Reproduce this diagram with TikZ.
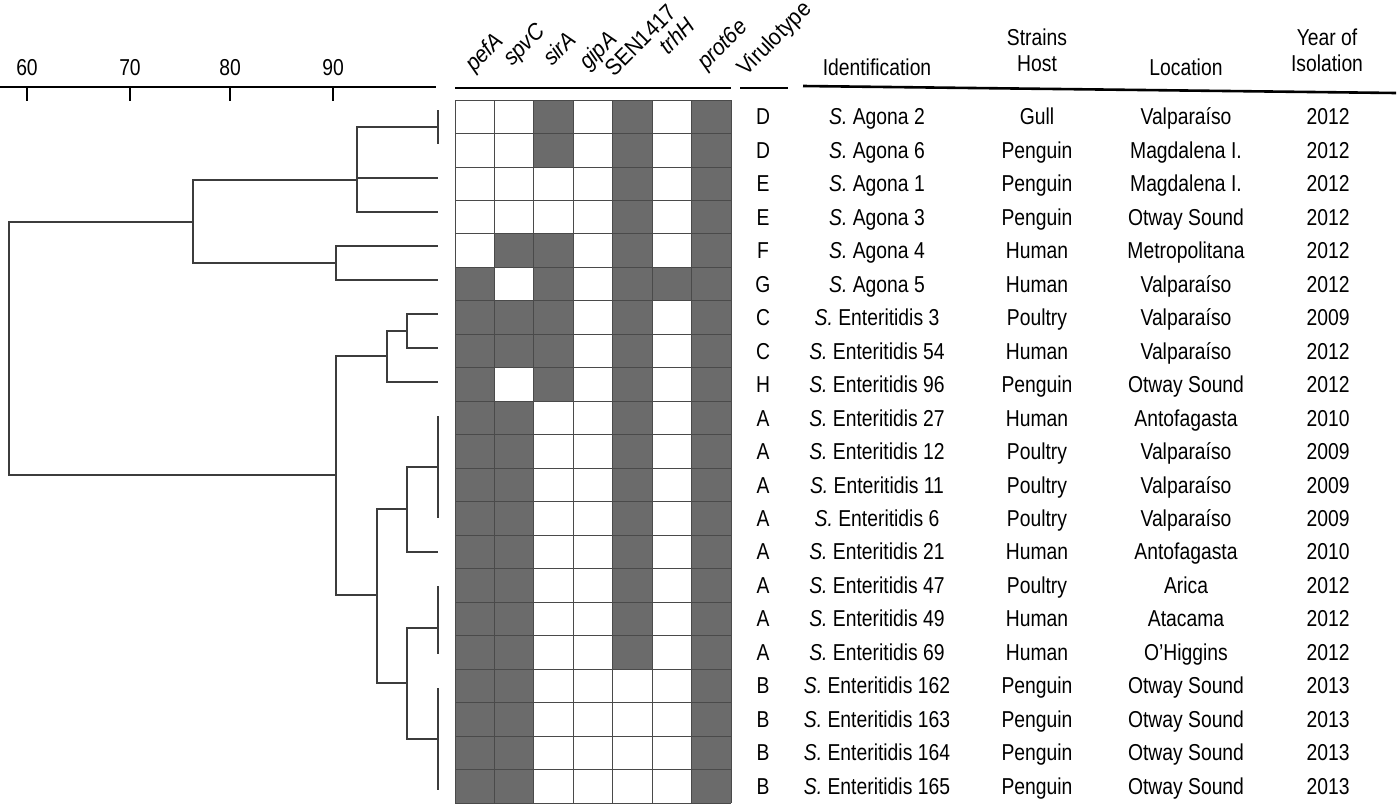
\documentclass[tikz,border=0pt]{standalone}
\usepackage{fontspec}
\setmainfont[FakeStretch=0.84]{Liberation Sans}
\newfontfamily\genefont[FakeStretch=0.92]{Liberation Sans}
\definecolor{cellfill}{HTML}{6B6B6B}
\definecolor{cellline}{HTML}{4A4A4A}
\definecolor{treeline}{HTML}{3C3C3C}
\begin{document}
\begin{tikzpicture}[x=1pt,y=-1pt,
  txt/.style={inner sep=0pt,anchor=base,font=\fontsize{23}{26}\selectfont},
  gene/.style={inner sep=0pt,anchor=base west,rotate=45,font=\genefont\fontsize{23}{26}\selectfont},
  tree/.style={draw=treeline,line width=1.5pt},
  bar/.style={draw=black,line width=2.6pt},
  cellbox/.style={draw=cellline,line width=0.9pt}]
\useasboundingbox (0,0) rectangle (1400,809);
% ---------- axis ----------
\draw[bar] (0,87) -- (436,87);
\foreach \v/\x in {60/27,70/130,80/230,90/333}{
  \draw[bar,line width=2.4pt] (\x,87) -- (\x,101);
  \node[txt] (ax\v) at (\x,75) {\v};
}
% ---------- dendrogram ----------
\coordinate (R) at (9,348);
\coordinate (A) at (193,222);
\coordinate (A1) at (357,180);
\coordinate (A2) at (336,263);
\coordinate (B) at (336,475);
\coordinate (B1) at (387,356);
\coordinate (B11) at (407,331);
\coordinate (B2) at (377,595);
\coordinate (B21) at (407,509);
\coordinate (B22) at (407,683);
\coordinate (L01) at (438,127);
\coordinate (L2) at (438,178);
\coordinate (L3) at (438,212);
\coordinate (L4) at (438,246);
\coordinate (L5) at (438,280);
\coordinate (L6) at (438,314);
\coordinate (L7) at (438,348);
\coordinate (L8) at (438,382);
\coordinate (L912) at (438,467);
\coordinate (L13) at (438,552);
\coordinate (L1416) at (438,628);
\coordinate (L1720) at (438,739);
\draw[tree] (R) |- (A) (R) |- (B);
\draw[tree] (A) |- (A1) (A) |- (A2);
\draw[tree] (A1) |- (L01) (A1) |- (L2) (A1) |- (L3);
\draw[tree] (A2) |- (L4) (A2) |- (L5);
\draw[tree] (B) |- (B1) (B) |- (B2);
\draw[tree] (B1) |- (B11) (B1) |- (L8);
\draw[tree] (B11) |- (L6) (B11) |- (L7);
\draw[tree] (B2) |- (B21) (B2) |- (B22);
\draw[tree] (B21) |- (L912) (B21) |- (L13);
\draw[tree] (B22) |- (L1416) (B22) |- (L1720);
\draw[tree] (438,110) -- (438,144);
\draw[tree] (438,416) -- (438,518);
\draw[tree] (438,586) -- (438,654);
\draw[tree] (438,688) -- (438,790);
% ---------- presence grid ----------
\def\cw{39.43}
\def\rh{33.48}
\foreach \pat [count=\r from 0] in {
 {0,0,1,0,1,0,1},{0,0,1,0,1,0,1},{0,0,0,0,1,0,1},{0,0,0,0,1,0,1},
 {0,1,1,0,1,0,1},{1,0,1,0,1,1,1},{1,1,1,0,1,0,1},{1,1,1,0,1,0,1},
 {1,0,1,0,1,0,1},{1,1,0,0,1,0,1},{1,1,0,0,1,0,1},{1,1,0,0,1,0,1},
 {1,1,0,0,1,0,1},{1,1,0,0,1,0,1},{1,1,0,0,1,0,1},{1,1,0,0,1,0,1},
 {1,1,0,0,1,0,1},{1,1,0,0,0,0,1},{1,1,0,0,0,0,1},{1,1,0,0,0,0,1},
 {1,1,0,0,0,0,1}}{
  \foreach \v [count=\c from 0] in \pat {
    \ifnum\v=1
      \fill[cellfill] ({455+\c*\cw},{100+\r*\rh}) rectangle ++(\cw,\rh);
    \fi
  }
}
\foreach \c in {0,...,7}{\draw[cellbox] ({455+\c*\cw},100) -- ({455+\c*\cw},803);}
\foreach \r in {0,...,21}{\draw[cellbox] (455,{100+\r*\rh}) -- (731,{100+\r*\rh});}
% ---------- header ----------
\draw[bar] (455,88) -- (731,88);
\draw[bar] (740,88) -- (788,88);
\draw[bar] (803,86) -- (1396,93);
\node[gene] (g1) at (474,73) {\itshape pefA};
\node[gene] (g2) at (512,67) {\itshape spvC};
\node[gene] (g3) at (552,67) {\itshape sirA};
\node[gene] (g4) at (588,71) {\itshape gipA};
\node[gene] (g5) at (614,78) {SEN1417};
\node[gene] (g6) at (668,56) {\itshape trhH};
\node[gene] (g7) at (706,71) {\itshape prot6e};
\node[gene] (g8) at (746,77) {Virulotype};
\node[txt] (h1) at (877,75) {Identification};
\node[txt] (h2a) at (1037,45) {Strains};
\node[txt] (h2b) at (1037,71) {Host};
\node[txt] (h3) at (1186,75) {Location};
\node[txt] (h4a) at (1327,45) {Year of};
\node[txt] (h4b) at (1327,71) {Isolation};
% ---------- rows ----------
\foreach \vt/\sp/\host/\loc/\yr [count=\i from 0] in {
 D/Agona 2/Gull/Valparaíso/2012,
 D/Agona 6/Penguin/Magdalena I./2012,
 E/Agona 1/Penguin/Magdalena I./2012,
 E/Agona 3/Penguin/Otway Sound/2012,
 F/Agona 4/Human/Metropolitana/2012,
 G/Agona 5/Human/Valparaíso/2012,
 C/Enteritidis 3/Poultry/Valparaíso/2009,
 C/Enteritidis 54/Human/Valparaíso/2012,
 H/Enteritidis 96/Penguin/Otway Sound/2012,
 A/Enteritidis 27/Human/Antofagasta/2010,
 A/Enteritidis 12/Poultry/Valparaíso/2009,
 A/Enteritidis 11/Poultry/Valparaíso/2009,
 A/Enteritidis 6/Poultry/Valparaíso/2009,
 A/Enteritidis 21/Human/Antofagasta/2010,
 A/Enteritidis 47/Poultry/Arica/2012,
 A/Enteritidis 49/Human/Atacama/2012,
 A/Enteritidis 69/Human/O’Higgins/2012,
 B/Enteritidis 162/Penguin/Otway Sound/2013,
 B/Enteritidis 163/Penguin/Otway Sound/2013,
 B/Enteritidis 164/Penguin/Otway Sound/2013,
 B/Enteritidis 165/Penguin/Otway Sound/2013}{
  \pgfmathsetmacro{\yb}{100+(\i+0.5)*33.48+8}
  \node[txt] (v\i) at (763,\yb) {\vt};
  \node[txt] (id\i) at (877,\yb) {\textit{S.} \sp};
  \node[txt] (ho\i) at (1037,\yb) {\host};
  \node[txt] (lo\i) at (1186,\yb) {\loc};
  \node[txt] (yr\i) at (1328,\yb) {\yr};
}
\end{tikzpicture}
\end{document}
